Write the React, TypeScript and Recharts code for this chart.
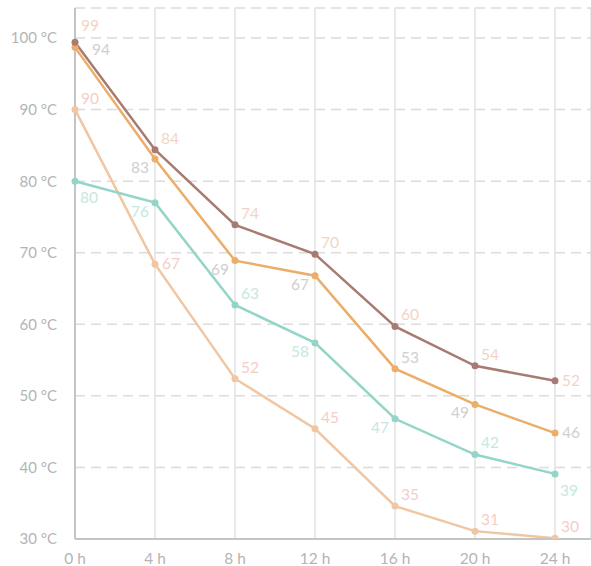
import React from 'react';
import { LineChart, Line, XAxis, YAxis, CartesianGrid } from 'recharts';

const hours = ['0 h', '4 h', '8 h', '12 h', '16 h', '20 h', '24 h'];
const yTicks = [30, 40, 50, 60, 70, 80, 90, 100];

// values
const seriesA = [99.4, 84.4, 73.9, 69.8, 59.7, 54.2, 52.1];
const seriesB = [98.7, 83.1, 68.9, 66.8, 53.8, 48.8, 44.8];
const seriesC = [80.0, 77.0, 62.7, 57.4, 46.8, 41.8, 39.1];
const seriesD = [90.0, 68.4, 52.4, 45.4, 34.6, 31.1, 30.1];

// printed labels next to the points
const labelsA = [99, 84, 74, 70, 60, 54, 52];
const labelsB = [94, 83, 69, 67, 53, 49, 46];
const labelsC = [80, 76, 63, 58, 47, 42, 39];
const labelsD = [90, 67, 52, 45, 35, 31, 30];

// where each label sits around its point
const placeA = ['tr2', 'tr', 'tr', 'tr', 'tr', 'tr', 'r'];
const placeB = ['r2', 'bl', 'bl', 'bl', 'tr', 'bl', 'r'];
const placeC = ['br', 'bl', 'tr', 'bl', 'bl', 'tr', 'br'];
const placeD = ['tr', 'r', 'tr', 'tr', 'tr', 'tr', 'tr'];

const data = hours.map((h, i) => ({
  hour: h,
  a: seriesA[i],
  b: seriesB[i],
  c: seriesC[i],
  d: seriesD[i],
}));

const FONT = 'Lato, "Open Sans", sans-serif';

const makeLabel = (labels: number[], places: string[], color: string) => (props: any) => {
  const { x, y, index } = props;
  const p = places[index];
  let dx = 6;
  let dy = -10;
  let anchor = 'start';
  if (p === 'tr2') { dx = 6; dy = -15; }
  if (p === 'r') { dx = 7; dy = 1; }
  if (p === 'r2') { dx = 17; dy = 4; }
  if (p === 'br') { dx = 5; dy = 18; }
  if (p === 'bl') { dx = -6; dy = 10; anchor = 'end'; }
  return (
    <text
      key={`l-${index}`}
      x={x + dx}
      y={y + dy}
      fill={color}
      fontSize={15.5}
      fontFamily={FONT}
      textAnchor={anchor}
      dominantBaseline="middle"
    >
      {labels[index]}
    </text>
  );
};

const App: React.FC = () => {
  return (
    <div style={{ position: 'fixed', left: 0, top: 0, width: 591, height: 566, background: '#fff' }}>
      <LineChart width={591} height={566} data={data} margin={{ top: 8, right: 0, left: 0, bottom: 0 }}>
        <CartesianGrid horizontal={false} vertical stroke="#e2e2e2" strokeWidth={1.5} />
        <CartesianGrid vertical={false} horizontal stroke="#dcdcdc" strokeDasharray="10 6" strokeWidth={1.5} />
        <XAxis
          dataKey="hour"
          padding={{ left: 0, right: 36 }}
          height={27}
          tickLine={false}
          axisLine={{ stroke: '#c4c4c4', strokeWidth: 2 }}
          tick={{ fill: '#b4b4b4', fontSize: 15.5, fontFamily: FONT }}
          tickMargin={8}
        />
        <YAxis
          width={75}
          domain={[30, 104.2]}
          ticks={yTicks}
          tickFormatter={(v) => `${v} °C`}
          tickLine={false}
          axisLine={{ stroke: '#c4c4c4', strokeWidth: 2 }}
          tick={{ fill: '#b4b4b4', fontSize: 15, fontFamily: FONT }}
          tickMargin={12}
          allowDataOverflow
        />
        <Line dataKey="d" stroke="#f0c6a3" strokeWidth={2.5} isAnimationActive={false}
          dot={{ r: 3.5, fill: '#f0c6a3', stroke: '#f0c6a3', strokeWidth: 0 }}
          label={makeLabel(labelsD, placeD, '#f5cdc6')} />
        <Line dataKey="c" stroke="#93d5c9" strokeWidth={2.5} isAnimationActive={false}
          dot={{ r: 3.5, fill: '#93d5c9', stroke: '#93d5c9', strokeWidth: 0 }}
          label={makeLabel(labelsC, placeC, '#c5e8e0')} />
        <Line dataKey="b" stroke="#ecad68" strokeWidth={2.5} isAnimationActive={false}
          dot={{ r: 3.5, fill: '#ecad68', stroke: '#ecad68', strokeWidth: 0 }}
          label={makeLabel(labelsB, placeB, '#cfcfcf')} />
        <Line dataKey="a" stroke="#a87b72" strokeWidth={2.5} isAnimationActive={false}
          dot={{ r: 3.5, fill: '#a87b72', stroke: '#a87b72', strokeWidth: 0 }}
          label={makeLabel(labelsA, placeA, '#f3d4c4')} />
      </LineChart>
    </div>
  );
};

export default App;
